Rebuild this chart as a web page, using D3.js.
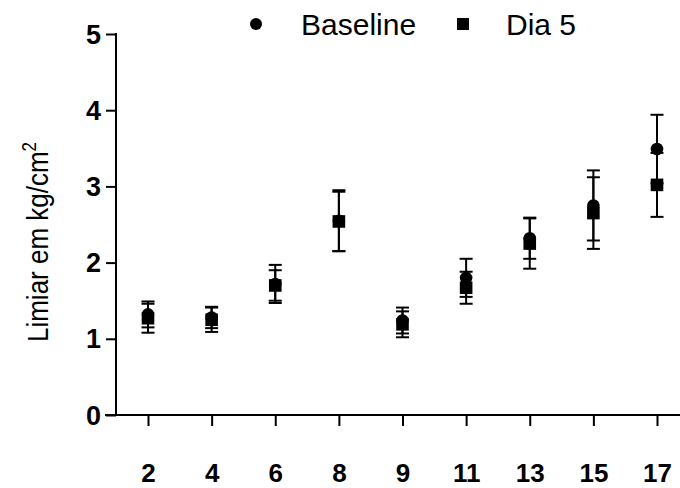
<!DOCTYPE html>
<html>
<head>
<meta charset="utf-8">
<script src="https://cdn.jsdelivr.net/npm/d3@7"></script>
<style>
  body { margin: 0; background: #fff; }
  text { font-family: "Liberation Sans", Arial, sans-serif; fill: #000; }
</style>
</head>
<body>
<div id="chart"></div>
<script>
// chart data
var categories = ["2", "4", "6", "8", "9", "11", "13", "15", "17"];
var baseline    = [1.32, 1.28, 1.72, 2.55, 1.24, 1.80, 2.32, 2.75, 3.49];
var baselineErr = [0.17, 0.14, 0.25, 0.40, 0.17, 0.25, 0.27, 0.46, 0.45];
var dia5        = [1.27, 1.25, 1.70, 2.54, 1.19, 1.67, 2.25, 2.65, 3.02];
var dia5Err     = [0.19, 0.16, 0.20, 0.39, 0.17, 0.21, 0.33, 0.47, 0.42];
var yTicks = [0, 1, 2, 3, 4, 5];
var seriesNames = ["Baseline", "Dia 5"];

var svgWidth = 680;
var svgHeight = 488;

var svg = d3.select("#chart")
    .append("svg")
    .attr("width", svgWidth)
    .attr("height", svgHeight);

// scales
var xScale = d3.scalePoint()
    .domain(categories)
    .range([148, 657]);

var yScale = d3.scaleLinear()
    .domain([0, 5])
    .range([415, 34]);

// y axis
var leftAxis = d3.axisLeft(yScale)
    .tickValues(yTicks)
    .tickFormat(d3.format("d"))
    .tickSize(10)
    .tickPadding(5)
    .tickSizeOuter(0);

var yAxisG = svg.append("g")
    .attr("transform", "translate(116, 0)")
    .call(leftAxis);
yAxisG.select(".domain").remove();
yAxisG.append("line")
    .attr("x1", 0).attr("x2", 0)
    .attr("y1", yScale(5) - 1).attr("y2", yScale(0))
    .attr("stroke", "#000").attr("stroke-width", 2);
yAxisG.selectAll(".tick line").attr("stroke-width", 2);
yAxisG.selectAll(".tick text")
    .style("font-size", "27px")
    .style("font-weight", "bold")
    .attr("dy", "0.34em");

// x axis
var bottomAxis = d3.axisBottom(xScale)
    .tickSize(11)
    .tickPadding(38)
    .tickSizeOuter(0);

var xAxisG = svg.append("g")
    .attr("transform", "translate(0, " + yScale(0) + ")")
    .call(bottomAxis);
xAxisG.select(".domain").remove();
xAxisG.append("line")
    .attr("x1", 105).attr("x2", 680)
    .attr("y1", 0).attr("y2", 0)
    .attr("stroke", "#000").attr("stroke-width", 2);
xAxisG.selectAll(".tick line").attr("stroke-width", 2);
xAxisG.selectAll(".tick text")
    .style("font-size", "26px")
    .style("font-weight", "bold");

// y axis title (slightly stretched across, like the reference)
var yTitle = svg.append("text")
    .attr("transform", "translate(48, 342) rotate(-90) scale(1, 1.15)")
    .style("font-size", "26px");
yTitle.append("tspan").text("Limiar em kg/cm");
yTitle.append("tspan")
    .attr("dy", "-0.6em")
    .style("font-size", "17px")
    .text("2");

// error bars + markers
var series = [
    { name: seriesNames[0], vals: baseline, errs: baselineErr, shape: "circle" },
    { name: seriesNames[1], vals: dia5, errs: dia5Err, shape: "square" }
];
var capW = 6.5;

series.forEach(function (s) {
    var rows = categories.map(function (c, i) {
        return { cat: c, v: s.vals[i], e: s.errs[i] };
    });
    var g = svg.append("g");
    var eb = g.selectAll("g.err")
        .data(rows)
        .enter()
        .append("g")
        .attr("class", "err")
        .attr("stroke", "#000")
        .attr("stroke-width", 2);
    eb.append("line")
        .attr("x1", d => xScale(d.cat)).attr("x2", d => xScale(d.cat))
        .attr("y1", d => yScale(d.v + d.e)).attr("y2", d => yScale(d.v - d.e));
    eb.append("line")
        .attr("x1", d => xScale(d.cat) - capW).attr("x2", d => xScale(d.cat) + capW)
        .attr("y1", d => yScale(d.v + d.e)).attr("y2", d => yScale(d.v + d.e));
    eb.append("line")
        .attr("x1", d => xScale(d.cat) - capW).attr("x2", d => xScale(d.cat) + capW)
        .attr("y1", d => yScale(d.v - d.e)).attr("y2", d => yScale(d.v - d.e));

    if (s.shape === "circle") {
        g.selectAll("circle")
            .data(rows)
            .enter()
            .append("circle")
            .attr("cx", d => xScale(d.cat))
            .attr("cy", d => yScale(d.v))
            .attr("r", 6.3)
            .attr("fill", "#000");
    } else {
        g.selectAll("rect")
            .data(rows)
            .enter()
            .append("rect")
            .attr("x", d => xScale(d.cat) - 6.3)
            .attr("y", d => yScale(d.v) - 6.3)
            .attr("width", 12.6)
            .attr("height", 12.6)
            .attr("fill", "#000");
    }
});

// legend
var legend = svg.append("g");
legend.append("circle")
    .attr("cx", 256).attr("cy", 24).attr("r", 6)
    .attr("fill", "#000");
legend.append("text")
    .attr("x", 301).attr("y", 35)
    .style("font-size", "30px")
    .text(seriesNames[0]);
legend.append("rect")
    .attr("x", 457).attr("y", 18).attr("width", 12).attr("height", 12)
    .attr("fill", "#000");
legend.append("text")
    .attr("x", 506).attr("y", 35)
    .style("font-size", "30px")
    .text(seriesNames[1]);
</script>
</body>
</html>
